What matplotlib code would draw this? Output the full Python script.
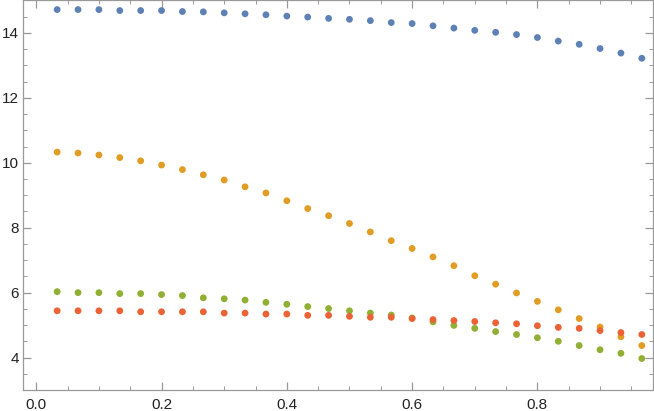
import numpy as np
import matplotlib.pyplot as plt
from matplotlib.ticker import MultipleLocator

plt.rcParams['font.family'] = ['Liberation Sans', 'DejaVu Sans']

# x positions: k/30 for k = 1..29
x_values = [k / 30 for k in range(1, 30)]

blue_values = [14.72, 14.72, 14.72, 14.69, 14.69, 14.69, 14.66, 14.65, 14.62, 14.59,
               14.56, 14.52, 14.49, 14.45, 14.42, 14.38, 14.32, 14.29, 14.22, 14.15,
               14.08, 14.02, 13.95, 13.86, 13.75, 13.65, 13.52, 13.38, 13.22]

orange_values = [10.33, 10.30, 10.24, 10.16, 10.06, 9.93, 9.79, 9.63, 9.47, 9.26,
                 9.07, 8.83, 8.59, 8.37, 8.13, 7.87, 7.60, 7.36, 7.10, 6.83,
                 6.52, 6.26, 5.99, 5.73, 5.47, 5.20, 4.94, 4.64, 4.37]

green_values = [6.03, 6.00, 6.00, 5.97, 5.97, 5.94, 5.91, 5.84, 5.81, 5.77,
                5.70, 5.64, 5.57, 5.51, 5.44, 5.37, 5.31, 5.22, 5.10, 4.99,
                4.90, 4.80, 4.71, 4.61, 4.50, 4.37, 4.24, 4.13, 3.97]

red_values = [5.44, 5.44, 5.44, 5.44, 5.41, 5.41, 5.41, 5.41, 5.37, 5.37,
              5.34, 5.34, 5.30, 5.30, 5.27, 5.24, 5.24, 5.20, 5.17, 5.14,
              5.11, 5.07, 5.04, 4.98, 4.93, 4.90, 4.83, 4.77, 4.71]

colors = ["#5E81B5", "#E19C24", "#8FB032", "#EB6235"]

fig = plt.figure(figsize=(6.54, 4.11), dpi=100)
ax = fig.add_axes([23.3 / 654, 21 / 411, 630 / 654, 389.5 / 411])

for series, c in zip([blue_values, orange_values, green_values, red_values], colors):
    ax.scatter(x_values, series, s=24, color=c, edgecolors="none", zorder=3)

ax.set_xlim(-0.0207, 0.985)
ax.set_ylim(3.0, 15.0)

ax.xaxis.set_major_locator(MultipleLocator(0.2))
ax.xaxis.set_minor_locator(MultipleLocator(0.05))
ax.yaxis.set_major_locator(MultipleLocator(2))
ax.yaxis.set_minor_locator(MultipleLocator(0.5))
ax.xaxis.set_major_formatter(plt.FuncFormatter(lambda v, p: f"{v:.1f}"))
ax.yaxis.set_major_formatter(plt.FuncFormatter(lambda v, p: f"{v:.0f}"))

frame_color = "#999999"
for spine in ax.spines.values():
    spine.set_color(frame_color)
    spine.set_linewidth(0.9)

ax.tick_params(which="both", direction="in", top=True, right=True,
               color=frame_color, labelcolor="#222222", labelsize=11)
ax.tick_params(which="major", length=5.5, width=0.9)
ax.tick_params(which="minor", length=2.8, width=0.7)
ax.tick_params(axis="x", pad=6)
ax.tick_params(axis="y", pad=3)

fig.savefig("out.png", dpi=100)
